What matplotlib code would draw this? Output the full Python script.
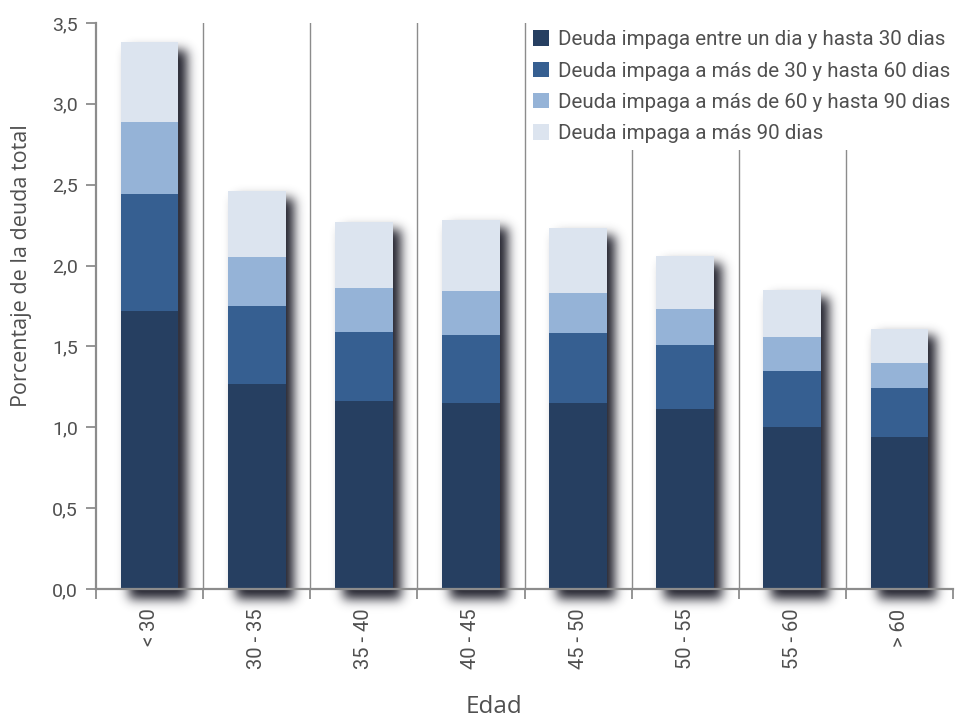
import numpy as np
import matplotlib
matplotlib.use('Agg')
import matplotlib.pyplot as plt
from matplotlib.patches import Patch
from matplotlib.ticker import FuncFormatter, FixedLocator


# datos (porcentaje de la deuda total, por tramo)
edades = ['< 30', '30 - 35', '35 - 40', '40 - 45', '45 - 50', '50 - 55', '55 - 60', '> 60']
hasta_30 = [1.72, 1.27, 1.16, 1.15, 1.15, 1.11, 1.00, 0.94]
de_30_a_60 = [0.72, 0.48, 0.43, 0.42, 0.43, 0.40, 0.35, 0.30]
de_60_a_90 = [0.45, 0.30, 0.27, 0.27, 0.25, 0.22, 0.21, 0.16]
mas_de_90 = [0.49, 0.41, 0.41, 0.44, 0.40, 0.33, 0.29, 0.21]

series = [hasta_30, de_30_a_60, de_60_a_90, mas_de_90]
etiquetas = ['Deuda impaga entre un dia y hasta 30 dias',
             'Deuda impaga a más de 30 y hasta 60 dias',
             'Deuda impaga a más de 60 y hasta 90 dias',
             'Deuda impaga a más 90 dias']
colores = ['#263f61', '#365f91', '#95b3d7', '#dce4ef']

GRIS = '#8c8c8c'
TEXTO = '#505050'
ANCHO = 0.54

plt.rcParams['font.family'] = ['Roboto', 'DejaVu Sans']

fig = plt.figure(figsize=(9.57, 7.19), dpi=100)
ax = fig.add_axes([96/957, 130/719, 857/957, 566/719])

x = np.arange(len(edades))
totales = np.sum(np.array(series), axis=0)


def sombra(ax, x, totales):
    # sombra difusa desplazada abajo a la derecha, hecha como imagen
    px_x = 857 / 8.0
    px_y = 566 / 3.5
    x0, x1, y0, y1 = -0.5, 7.5, -0.2, 3.6
    nx = int((x1 - x0) * px_x)
    ny = int((y1 - y0) * px_y)
    xs = np.linspace(x0, x1, nx)
    ys = np.linspace(y0, y1, ny)
    XX, YY = np.meshgrid(xs, ys)
    dx = 8 / px_x
    dy = 8 / px_y
    mask = np.zeros((ny, nx))
    for xi, t in zip(x, totales):
        dentro = (XX > xi - ANCHO/2 + dx) & (XX < xi + ANCHO/2 + dx) & \
                 (YY > -dy - 3/px_y) & (YY < t - dy)
        mask[dentro] = 1.0
    s = 5.5
    k = np.arange(-18, 19)
    kern = np.exp(-k**2 / (2*s*s))
    kern /= kern.sum()
    mask = np.apply_along_axis(lambda r: np.convolve(r, kern, mode='same'), 1, mask)
    mask = np.apply_along_axis(lambda c: np.convolve(c, kern, mode='same'), 0, mask)
    img = np.zeros((ny, nx, 4))
    img[..., 0] = 0.16
    img[..., 1] = 0.16
    img[..., 2] = 0.20
    img[..., 3] = np.clip(mask * 1.1, 0, 1) * 0.95
    ax.imshow(img, extent=(x0, x1, y0, y1), origin='lower', aspect='auto',
              zorder=1.5, clip_on=False, interpolation='bilinear')


sombra(ax, x, totales)

base = np.zeros(len(edades))
for vals, col, lab in zip(series, colores, etiquetas):
    ax.bar(x, vals, ANCHO, bottom=base, color=col, label=lab, zorder=3, linewidth=0)
    base = base + np.array(vals)

for b in np.arange(0.5, len(edades) - 1, 1.0):
    # la linea del medio queda por encima de la leyenda, como en el original
    ax.axvline(b, color=GRIS, lw=1.0, zorder=6 if b == 3.5 else 1)

ax.set_xlim(-0.5, len(edades) - 0.5)
ax.set_ylim(0, 3.5)

ax.set_yticks(np.arange(0, 3.51, 0.5))
ax.yaxis.set_major_formatter(FuncFormatter(lambda v, p: f'{v:.1f}'.replace('.', ',')))
ax.tick_params(axis='y', direction='out', length=7, width=1.3, color=GRIS,
               labelsize=14, labelcolor=TEXTO, pad=6)

ax.set_xticks(x)
ax.set_xticklabels(edades, rotation=90, fontsize=14.5, color=TEXTO)
ax.tick_params(axis='x', which='major', length=0, pad=14)
ax.xaxis.set_minor_locator(FixedLocator(np.arange(-0.5, len(edades), 1.0)))
ax.tick_params(axis='x', which='minor', direction='out', length=7, width=1.3, color=GRIS)

for lado in ['top', 'right']:
    ax.spines[lado].set_visible(False)
for lado in ['left', 'bottom']:
    ax.spines[lado].set_color(GRIS)
    ax.spines[lado].set_linewidth(1.6)
    ax.spines[lado].set_zorder(4)

ax.set_ylabel('Porcentaje de la deuda total', fontsize=15.5, color=TEXTO,
              family=['Open Sans', 'DejaVu Sans'])
ax.yaxis.set_label_coords(-0.075, 0.571)
fig.text(494/957, 1 - 707/719, 'Edad', ha='center', va='center', fontsize=17.5,
         color=TEXTO, family=['Open Sans', 'DejaVu Sans'])

handles = [Patch(facecolor=c, edgecolor='none') for c in colores]
leg = ax.legend(handles, etiquetas, loc='upper right', bbox_to_anchor=(1.005, 1.0),
                frameon=True, fancybox=False, framealpha=1.0, edgecolor='none',
                fontsize=14.8, labelcolor=TEXTO, handlelength=0.75, handleheight=0.75,
                handletextpad=0.45, labelspacing=0.6, borderpad=0.35,
                borderaxespad=0.0)
leg.set_zorder(5)

fig.savefig('out.png', dpi=100, facecolor='white')
